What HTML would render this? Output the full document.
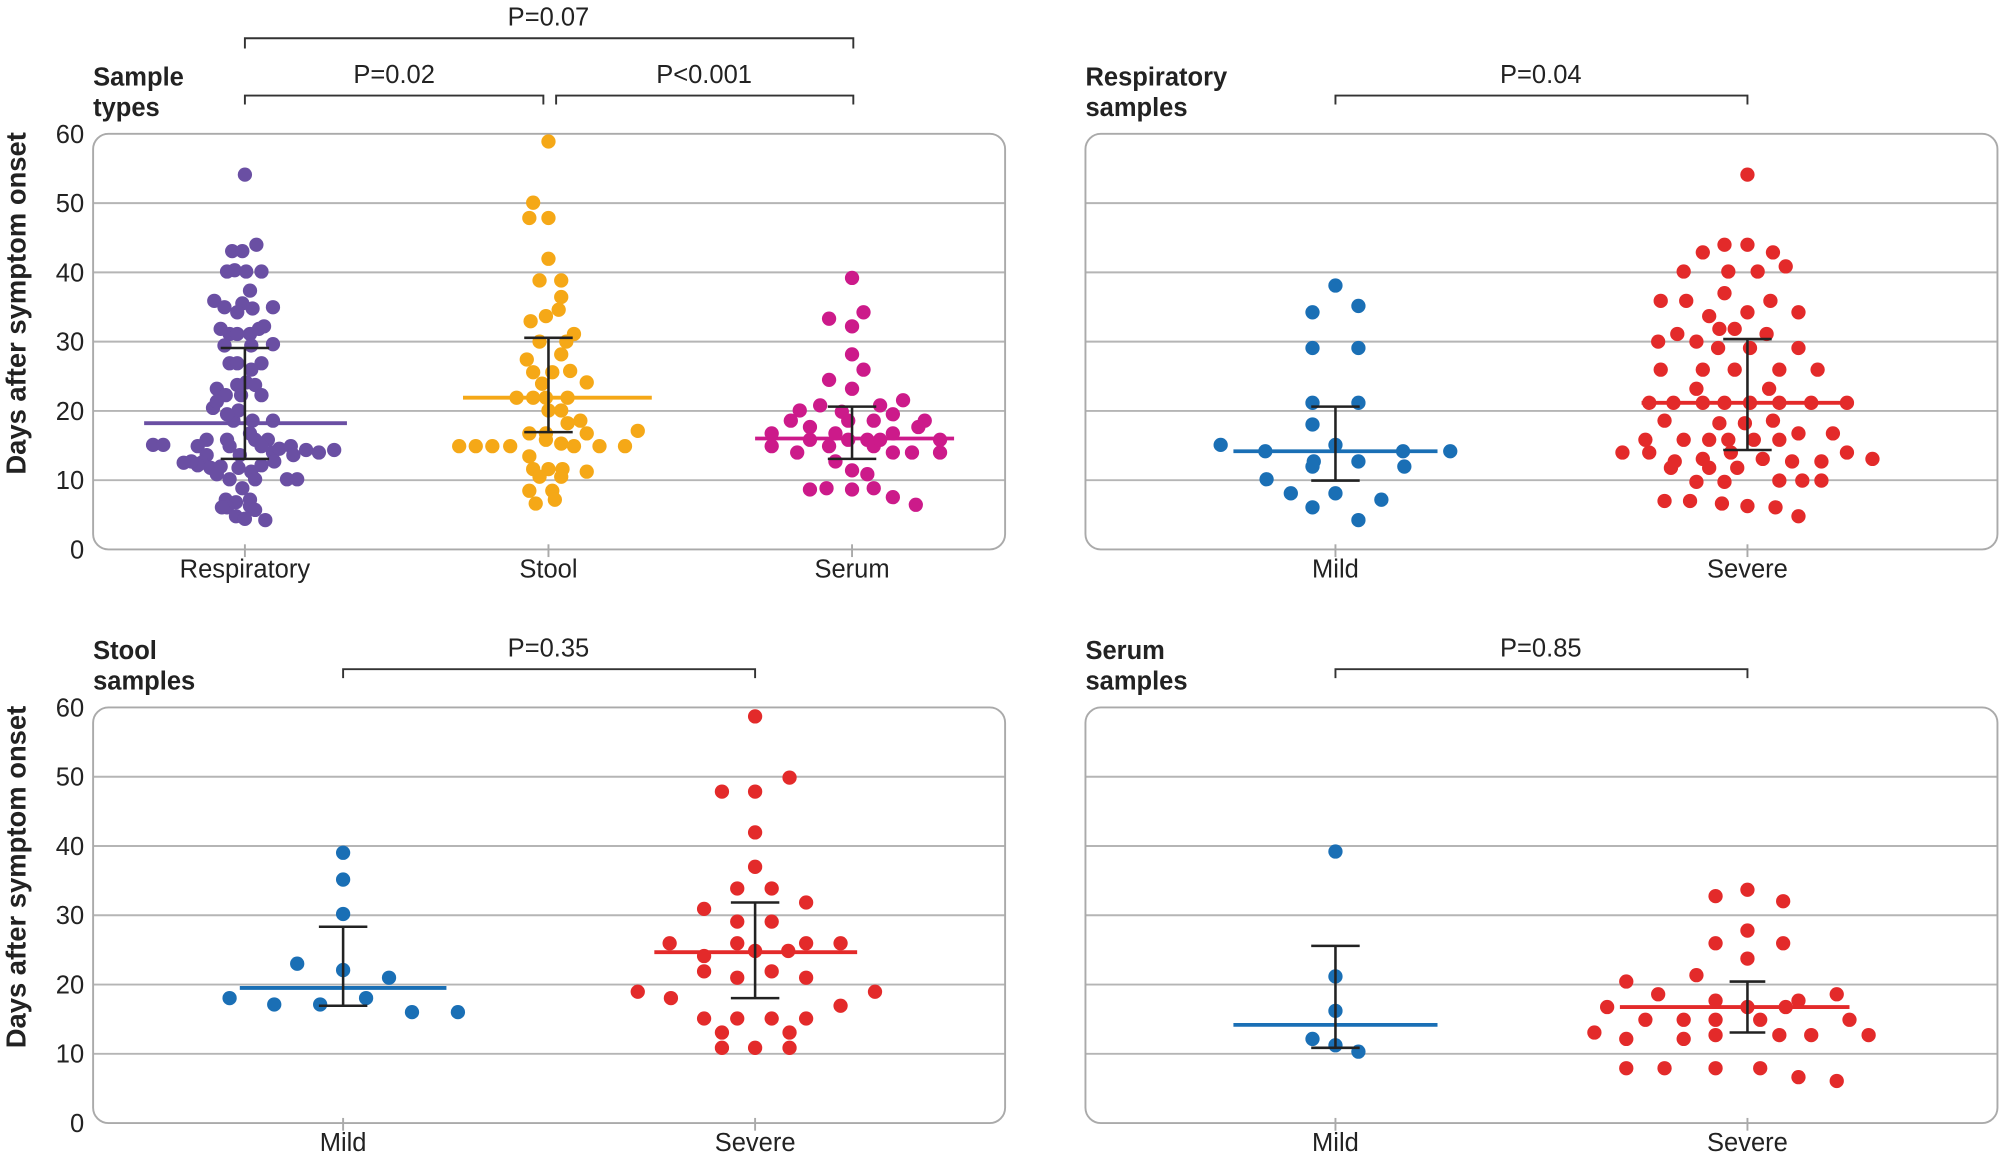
<!DOCTYPE html>
<html><head><meta charset="utf-8"><style>
html,body{margin:0;padding:0;background:#fff;}
svg{display:block}
text{font-family:"Liberation Sans",sans-serif;fill:#222}
.t{font-size:20px}
.b{font-size:20px;font-weight:bold}
</style></head><body>
<svg id="s" width="2000" height="1160" viewBox="0 0 1568 910" preserveAspectRatio="none" xmlns="http://www.w3.org/2000/svg">
<g id="frames"></g>
<text class="b" x="73" y="67">Sample</text><text class="b" x="73" y="91">types</text>
<text class="b" x="851" y="67">Respiratory</text><text class="b" x="851" y="91">samples</text>
<text class="b" x="73" y="517">Stool</text><text class="b" x="73" y="541">samples</text>
<text class="b" x="851" y="517">Serum</text><text class="b" x="851" y="541">samples</text>
<text class="b" transform="translate(20,238) rotate(-90)" text-anchor="middle" style="font-size:21.5px">Days after symptom onset</text>
<text class="b" transform="translate(20,688) rotate(-90)" text-anchor="middle" style="font-size:21.5px">Days after symptom onset</text>
<g stroke="#333" stroke-width="1.5" fill="none">
<path d="M192,38V30H669V38"/><path d="M192,82V75H426V82"/><path d="M436,82V75H669V82"/>
<path d="M1047,82V75H1370V82"/><path d="M269,532V525H592V532"/><path d="M1047,532V525H1370V532"/>
</g>
<g class="t" text-anchor="middle">
<text class="t" x="430" y="20">P=0.07</text><text class="t" x="309" y="65">P=0.02</text><text class="t" x="552" y="65">P&lt;0.001</text>
<text class="t" x="1208" y="65">P=0.04</text><text class="t" x="430" y="515">P=0.35</text><text class="t" x="1208" y="515">P=0.85</text>
<text class="t" x="192" y="453">Respiratory</text><text class="t" x="430" y="453">Stool</text><text class="t" x="668" y="453">Serum</text>
<text class="t" x="1047" y="453">Mild</text><text class="t" x="1370" y="453">Severe</text>
<text class="t" x="269" y="903">Mild</text><text class="t" x="592" y="903">Severe</text>
<text class="t" x="1047" y="903">Mild</text><text class="t" x="1370" y="903">Severe</text>
</g>
<g id="dots"></g>
<g id="bars"></g>
</svg>
<script>
var NS="http://www.w3.org/2000/svg";
function el(p,t,a){var e=document.createElementNS(NS,t);for(var k in a)e.setAttribute(k,a[k]);p.appendChild(e);return e;}
var F=document.getElementById('frames'),D=document.getElementById('dots'),B=document.getElementById('bars'),S=document.getElementById('s');
function frame(x0,x1,y0,cats,labels){
  var top=y0-326;
  for(var i=1;i<6;i++){var y=y0-i*54.33;el(F,'line',{x1:x0,x2:x1,y1:y,y2:y,stroke:'#b5b5b5','stroke-width':1.5});}
  el(F,'rect',{x:x0,y:top,width:x1-x0,height:326,rx:12,fill:'none',stroke:'#aaa','stroke-width':1.5});
  cats.forEach(function(c){el(F,'line',{x1:c,x2:c,y1:y0-4,y2:y0+6,stroke:'#aaa','stroke-width':1.5});});
  if(labels){for(var i=0;i<=6;i++){var t=el(S,'text',{x:66,y:y0-i*54.33+7,'text-anchor':'end','class':'t'});t.textContent=String(i*10);}}
}
frame(73,788,431,[192,430,668],true);frame(851,1566,431,[1047,1370],false);
frame(73,788,881,[269,592],true);frame(851,1566,881,[1047,1370],false);
function dots(c,pts){for(var i=0;i<pts.length;i+=2)el(D,'circle',{cx:pts[i],cy:pts[i+1],r:5.6,fill:c});}
function med(c,x1,x2,y){el(B,'line',{x1:x1,x2:x2,y1:y,y2:y,stroke:c,'stroke-width':3});}
function err(x,y1,y2,w){w=w||19;el(B,'path',{d:'M'+(x-w)+','+y1+'H'+(x+w)+'M'+x+','+y1+'V'+y2+'M'+(x-w)+','+y2+'H'+(x+w),stroke:'#222','stroke-width':2,fill:'none'});}
var P='#6a4fa3',O='#f5a817',M='#cc1a8a',BL='#1a6fb5',R='#e32a2a';
dots(P,[192,137,182,197,190,197,201,192,184,212,178,213,193,213,205,213,196,228,190,238,168,236,176,241,198,242,214,241,186,245,180,262,186,262,196,262,173,258,203,258,207,256,176,271,197,271,214,270,180,285,186,285,205,285,197,290,193,300,186,302,170,305,200,302,177,310,189,310,205,310,183,330,198,330,214,330,187,322,167,320,178,325,170,315,196,340,162,345,178,345,200,345,210,345,155,350,162,357,180,350,188,357,205,350,214,355,219,352,228,350,120,349,128,349,158,363,165,367,173,366,155,365,150,362,144,363,187,367,197,370,205,365,170,372,215,362,230,357,240,353,250,355,262,353,200,376,190,383,180,376,225,376,233,376,177,392,185,394,196,392,178,398,196,397,185,405,192,407,200,400,208,408,174,398]);
dots(O,[430,111,418,159,415,171,430,171,430,203,423,220,440,220,416,252,428,248,438,243,440,233,423,268,444,268,413,282,440,278,450,262,418,292,433,292,447,291,460,300,425,301,445,312,428,312,405,312,418,312,430,322,440,322,445,332,415,340,428,340,455,330,460,340,360,350,373,350,386,350,400,350,428,345,440,348,415,358,450,350,470,350,490,350,500,338,418,368,430,368,441,368,460,370,423,374,440,374,415,385,433,385,420,395,435,392]);
dots(M,[668,218,650,250,677,245,668,256,668,278,650,298,677,290,668,305,627,322,643,318,660,323,690,318,708,314,700,325,620,330,635,335,665,330,685,330,725,330,605,340,635,345,655,340,680,345,700,340,720,335,737,345,605,350,625,355,650,350,665,345,685,350,715,355,737,355,690,345,655,362,668,369,700,355,680,372,635,384,648,383,668,384,685,383,700,390,718,396]);
med(P,113,272,332);err(192,273,360);med(O,363,511,312);err(430,265,339);med(M,592,748,344);err(668,319,360);
dots(BL,[1047,224,1029,245,1065,240,1029,273,1065,273,1029,316,1065,316,1029,333,1047,349,957,349,992,354,1030,362,1065,362,1100,354,1137,354,1101,366,1029,366,993,376,1012,387,1047,387,1083,392,1029,398,1065,408]);
dots(R,[1370,137,1352,192,1370,192,1390,198,1335,198,1320,213,1355,213,1378,213,1400,209,1302,236,1322,236,1352,230,1388,236,1410,245,1340,248,1370,245,1315,262,1348,258,1360,258,1385,262,1330,268,1300,268,1347,273,1372,273,1410,273,1302,290,1335,290,1360,290,1395,290,1425,290,1293,316,1312,316,1335,316,1352,316,1372,316,1395,316,1420,316,1448,316,1330,305,1387,305,1305,330,1348,332,1368,332,1390,330,1410,340,1437,340,1320,345,1290,345,1340,345,1355,345,1375,345,1395,345,1272,355,1293,355,1313,362,1335,360,1357,355,1382,360,1405,362,1428,362,1448,355,1468,360,1310,367,1340,367,1362,367,1395,377,1413,377,1428,377,1305,393,1325,393,1350,395,1370,397,1392,398,1410,405,1352,378,1330,378]);
med(BL,967,1127,354);err(1047,319,377);med(R,1287,1452,316);err(1370,266,353);
dots(BL,[269,669,269,690,269,717,233,756,269,761,305,767,180,783,215,788,251,788,287,783,323,794,359,794]);
dots(R,[592,562,619,610,566,621,592,621,592,653,592,680,578,697,605,697,632,708,552,713,578,723,605,723,525,740,552,750,578,740,632,740,659,740,592,746,618,746,552,762,605,762,578,767,632,767,500,778,526,783,686,778,659,789,552,799,578,799,605,799,632,799,592,822,566,810,619,810,566,822,619,822]);
med(BL,188,350,775);err(269,727,789);med(R,513,672,747);err(592,708,783);
dots(BL,[1047,668,1047,766,1047,793,1029,815,1047,820,1065,825]);
dots(R,[1370,698,1345,703,1398,707,1370,730,1345,740,1398,740,1370,752,1275,770,1330,765,1300,780,1345,785,1370,790,1410,785,1440,780,1260,790,1290,800,1320,800,1345,800,1380,800,1400,790,1450,800,1250,810,1275,815,1320,815,1345,812,1395,812,1420,812,1465,812,1275,838,1305,838,1345,838,1380,838,1410,845,1440,848]);
med(BL,967,1127,804);err(1047,742,822);med(R,1270,1450,790);err(1370,770,810,14);
</script>
</body></html>
